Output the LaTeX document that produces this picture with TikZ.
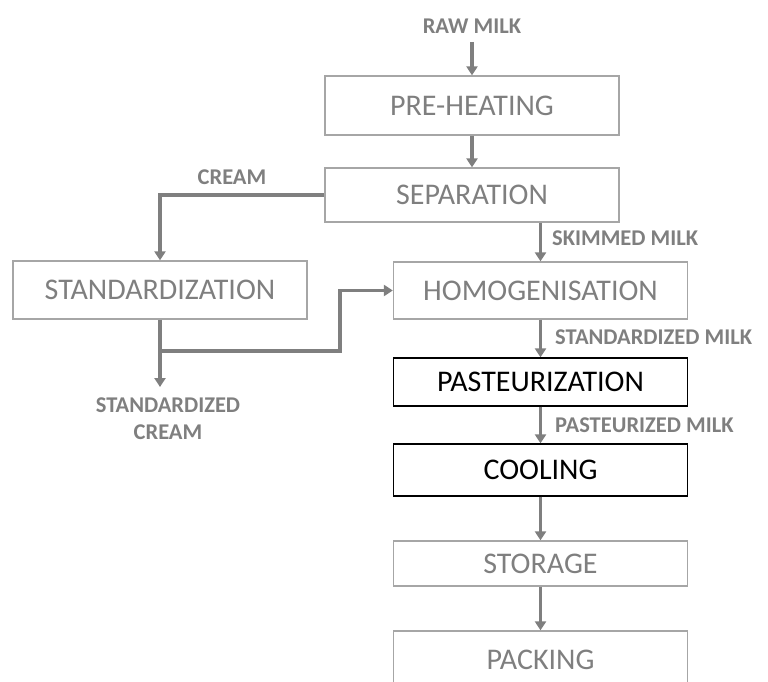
\documentclass[tikz,border=0pt]{standalone}
\usepackage{fontspec}
\setmainfont{Carlito}
\usetikzlibrary{arrows.meta}
\definecolor{flowgray}{RGB}{127,127,127}
\definecolor{boxgray}{RGB}{166,166,166}
\tikzset{
  stepbox/.style={draw=boxgray, line width=1.3pt, text=flowgray,
    minimum width=294pt, inner sep=0pt, font=\fontsize{30}{33}\selectfont},
  keybox/.style={stepbox, draw=black, text=black},
  flow/.style={draw=flowgray, line width=3.6pt,
    -{Triangle[width=11pt,length=9pt]}},
  tag/.style={text=flowgray, inner sep=0pt,
    font=\bfseries\fontsize{22.5}{24}\selectfont}
}
\begin{document}
\begin{tikzpicture}[x=1pt,y=-1pt]
  \useasboundingbox (0,0) rectangle (768,682);
  \clip (0,0) rectangle (768,682);
  % Main column
  \node[stepbox, minimum height=59pt] (preheat) at (472,105.5) {PRE-HEATING};
  \node[stepbox, minimum height=54pt] (sep) at (472,195) {SEPARATION};
  \node[stepbox, minimum height=57pt] (homog) at (540.5,290.5) {HOMOGENISATION};
  \node[keybox, minimum height=48pt] (pasteur) at (540.5,382) {PASTEURIZATION};
  \node[keybox, minimum height=52pt] (cool) at (540.5,470) {COOLING};
  \node[stepbox, minimum height=45pt] (store) at (540.5,563.5) {STORAGE};
  \node[stepbox, minimum height=58pt] (pack) at (540.5,660) {PACKING};
  % Side branch
  \node[stepbox, minimum height=58pt] (stdz) at (160,290) {STANDARDIZATION};
  % Labels
  \node[tag] (raw) at (472,26) {RAW MILK};
  \node[tag] (cream) at (232,177) {CREAM};
  \node[tag, anchor=west] (skim) at (552,238) {SKIMMED MILK};
  \node[tag, anchor=west] (stdmilk) at (555,337) {STANDARDIZED MILK};
  \node[tag, anchor=west] (pastmilk) at (555,425) {PASTEURIZED MILK};
  \node[tag, align=center] (stdcream) at (168,419)
    {STANDARDIZED\\[3pt]CREAM};
  \coordinate (rawend) at (472,42);
  \coordinate (creamend) at (160,387);
  \coordinate (split) at (160,351);
  % Arrows
  \draw[flow] (rawend) -- (preheat);
  \draw[flow] (preheat) -- (sep);
  \draw[flow] (sep.south -| homog.north) -- (homog);
  \draw[flow] (homog) -- (pasteur);
  \draw[flow] (pasteur) -- (cool);
  \draw[flow] (cool) -- (store);
  \draw[flow] (store) -- (pack);
  \draw[flow] (sep.west) -| (stdz.north);
  \draw[flow] (stdz) -- (creamend);
  \draw[flow] (split) -- ++(180,0) |- (homog.west);
\end{tikzpicture}
\end{document}
